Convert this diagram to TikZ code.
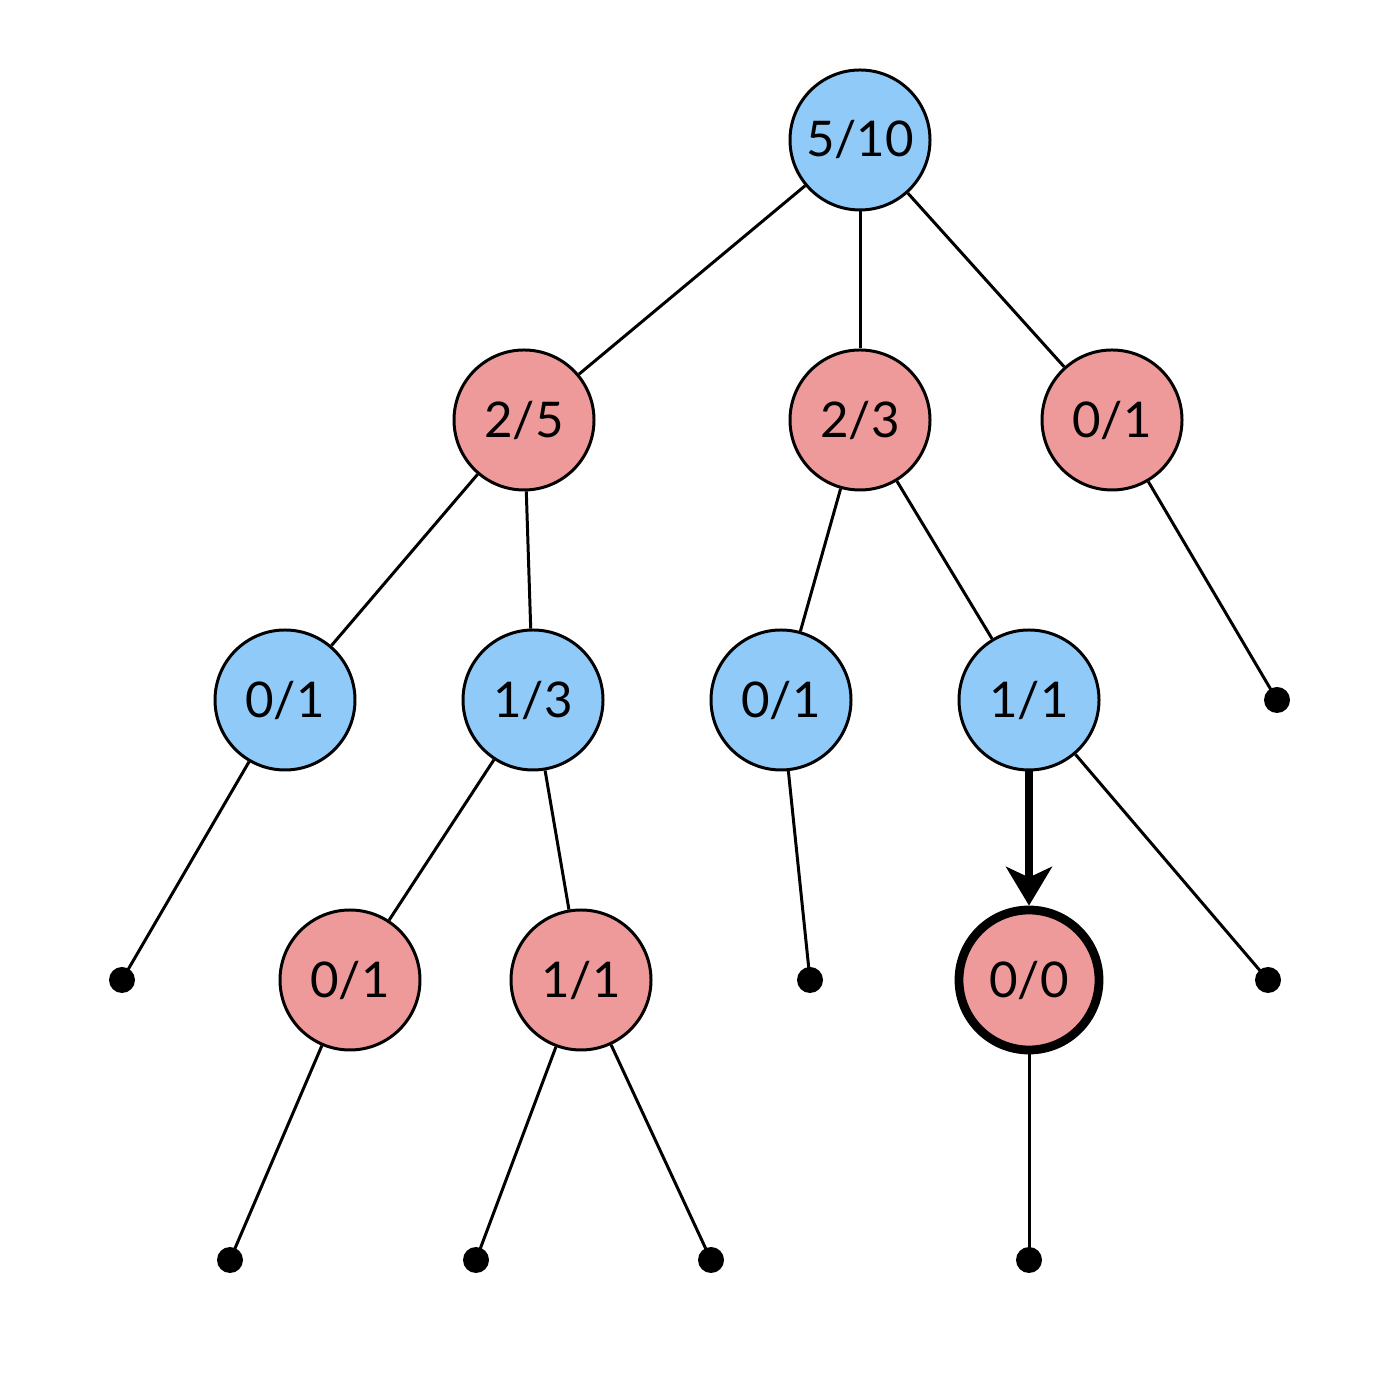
\documentclass[tikz,border=0pt]{standalone}
\usepackage{fontspec}
\setmainfont{Lato}
\usetikzlibrary{arrows.meta}
\definecolor{winblue}{HTML}{90CAF9}
\definecolor{lossred}{HTML}{EF9A9A}
\begin{document}
\begin{tikzpicture}[
  win/.style={circle,draw,line width=0.85pt,fill=winblue,minimum size=1.4cm,inner sep=0pt,font=\fontsize{14}{16}\selectfont},
  loss/.style={win,fill=lossred},
  leaf/.style={circle,fill=black,minimum size=0.26cm,inner sep=0pt},
  edge/.style={line width=0.85pt}]
  \useasboundingbox (0,0) rectangle (14,14);

  \node[win] (root) at (8.6,12.6) {5/10};

  \node[loss] (a) at (5.24,9.8) {2/5};
  \node[loss] (b) at (8.6,9.8) {2/3};
  \node[loss] (c) at (11.12,9.8) {0/1};

  \node[win] (aa) at (2.85,7) {0/1};
  \node[win] (ab) at (5.33,7) {1/3};
  \node[win] (ba) at (7.81,7) {0/1};
  \node[win] (bb) at (10.29,7) {1/1};
  \node[leaf] (ca) at (12.77,7) {};

  \node[leaf] (aaa) at (1.22,4.2) {};
  \node[loss] (aba) at (3.5,4.2) {0/1};
  \node[loss] (abb) at (5.81,4.2) {1/1};
  \node[leaf] (baa) at (8.1,4.2) {};
  \node[loss,line width=2.5pt] (bba) at (10.29,4.2) {0/0};
  \node[leaf] (bbb) at (12.68,4.2) {};

  \node[leaf] (abaa) at (2.3,1.4) {};
  \node[leaf] (abba) at (4.76,1.4) {};
  \node[leaf] (abbb) at (7.11,1.4) {};
  \node[leaf] (bbaa) at (10.29,1.4) {};

  \draw[edge] (root) -- (a);
  \draw[edge] (root) -- (b);
  \draw[edge] (root) -- (c);
  \draw[edge] (a) -- (aa);
  \draw[edge] (a) -- (ab);
  \draw[edge] (b) -- (ba);
  \draw[edge] (b) -- (bb);
  \draw[edge] (c) -- (ca.center);
  \draw[edge] (aa) -- (aaa.center);
  \draw[edge] (ab) -- (aba);
  \draw[edge] (ab) -- (abb);
  \draw[edge] (ba) -- (baa.center);
  \draw[line width=2.2pt,-{Stealth[length=11pt,width=13pt,inset=3pt]}] (bb) -- (bba);
  \draw[edge] (bb) -- (bbb.center);
  \draw[edge] (aba) -- (abaa.center);
  \draw[edge] (abb) -- (abba.center);
  \draw[edge] (abb) -- (abbb.center);
  \draw[edge] (bba) -- (bbaa.center);
\end{tikzpicture}
\end{document}
